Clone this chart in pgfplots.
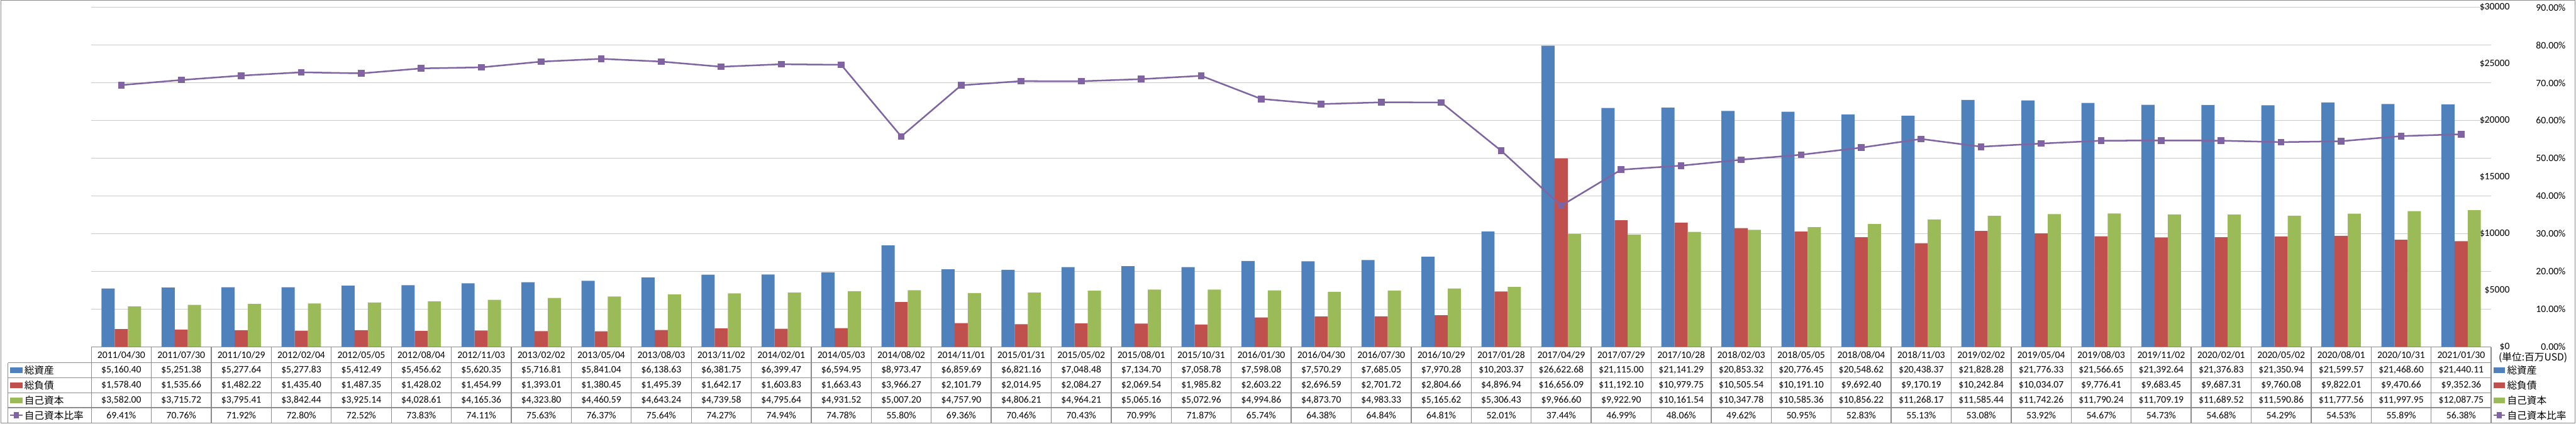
\documentclass[border=0pt]{standalone}
\usepackage{fontspec}
\setmainfont{Carlito}
\newfontfamily\jp{Noto Sans CJK JP}
\usepackage{pgfplots}
\usepackage{pgfplotstable}
\pgfplotsset{compat=1.18}
\pgfkeys{/pgf/number format/assume math mode=true}

\definecolor{cTA}{HTML}{4F81BD}
\definecolor{cTL}{HTML}{C0504D}
\definecolor{cEQ}{HTML}{9BBB59}
\definecolor{cR}{HTML}{8064A2}
\definecolor{cGrid}{HTML}{B5E09A}
\definecolor{cLine}{HTML}{8C8C8C}

\pgfplotstableread{
date ta tl eq r
2011/04/30 5160.40 1578.40 3582.00 69.41
2011/07/30 5251.38 1535.66 3715.72 70.76
2011/10/29 5277.64 1482.22 3795.41 71.92
2012/02/04 5277.83 1435.40 3842.44 72.80
2012/05/05 5412.49 1487.35 3925.14 72.52
2012/08/04 5456.62 1428.02 4028.61 73.83
2012/11/03 5620.35 1454.99 4165.36 74.11
2013/02/02 5716.81 1393.01 4323.80 75.63
2013/05/04 5841.04 1380.45 4460.59 76.37
2013/08/03 6138.63 1495.39 4643.24 75.64
2013/11/02 6381.75 1642.17 4739.58 74.27
2014/02/01 6399.47 1603.83 4795.64 74.94
2014/05/03 6594.95 1663.43 4931.52 74.78
2014/08/02 8973.47 3966.27 5007.20 55.80
2014/11/01 6859.69 2101.79 4757.90 69.36
2015/01/31 6821.16 2014.95 4806.21 70.46
2015/05/02 7048.48 2084.27 4964.21 70.43
2015/08/01 7134.70 2069.54 5065.16 70.99
2015/10/31 7058.78 1985.82 5072.96 71.87
2016/01/30 7598.08 2603.22 4994.86 65.74
2016/04/30 7570.29 2696.59 4873.70 64.38
2016/07/30 7685.05 2701.72 4983.33 64.84
2016/10/29 7970.28 2804.66 5165.62 64.81
2017/01/28 10203.37 4896.94 5306.43 52.01
2017/04/29 26622.68 16656.09 9966.60 37.44
2017/07/29 21115.00 11192.10 9922.90 46.99
2017/10/28 21141.29 10979.75 10161.54 48.06
2018/02/03 20853.32 10505.54 10347.78 49.62
2018/05/05 20776.45 10191.10 10585.36 50.95
2018/08/04 20548.62 9692.40 10856.22 52.83
2018/11/03 20438.37 9170.19 11268.17 55.13
2019/02/02 21828.28 10242.84 11585.44 53.08
2019/05/04 21776.33 10034.07 11742.26 53.92
2019/08/03 21566.65 9776.41 11790.24 54.67
2019/11/02 21392.64 9683.45 11709.19 54.73
2020/02/01 21376.83 9687.31 11689.52 54.68
2020/05/02 21350.94 9760.08 11590.86 54.29
2020/08/01 21599.57 9822.01 11777.56 54.53
2020/10/31 21468.60 9470.66 11997.95 55.89
2021/01/30 21440.11 9352.36 12087.75 56.38
}\data

\pgfplotsset{
  base/.style={
    at={(92.5pt,77.5pt)}, anchor=south west,
    width=2432pt, height=344pt, scale only axis,
    xmin=-0.5, xmax=39.5, xtick=\empty,
    axis line style={draw=none},
    major tick length=0pt,
    scaled y ticks=false,
    tick label style={font=\fontsize{10}{12}\selectfont},
  }
}

\begin{document}
\fontsize{10}{12}\selectfont
\begin{tikzpicture}
\useasboundingbox (0,0) rectangle (2610.5pt,429pt);
% grid axis
\begin{axis}[base, ymin=0, ymax=90, ytick={0,10,...,90}, yticklabels={},
  ymajorgrids, grid style={cGrid, line width=0.6pt}]
\end{axis}
% bars
\begin{axis}[base, ymin=0, ymax=30000, ytick={0,5000,...,30000},
  axis y line*=right, y axis line style={draw=none},
  yticklabel={\$\pgfmathprintnumber[fixed,1000 sep={}]{\tick}},
  yticklabel style={anchor=east, xshift=22.3pt},
  ybar=0pt, bar width=13.35pt]
\addplot[fill=cTA, draw=none] table[x expr=\coordindex, y=ta]{\data};
\addplot[fill=cTL, draw=none] table[x expr=\coordindex, y=tl]{\data};
\addplot[fill=cEQ, draw=none] table[x expr=\coordindex, y=eq]{\data};
\end{axis}
% ratio line
\begin{axis}[base, ymin=0, ymax=90, ytick={0,10,...,90},
  axis y line*=right, y axis line style={draw=none},
  yticklabel={\pgfmathprintnumber[fixed,fixed zerofill,precision=2]{\tick}\%},
  yticklabel style={anchor=east, xshift=79pt}]
\addplot[cR, line width=1.6pt, mark=square*, mark size=2.6pt, mark options={solid, fill=cR}]
  table[x expr=\coordindex, y=r]{\data};
\end{axis}

% data table
\begin{scope}[cLine, line width=0.8pt]
\draw (92.5pt,77.5pt) -- (2524.5pt,77.5pt);
\foreach \y in {61.5,46.5,31,16,0.5} \draw (8pt,\y pt) -- (2524.5pt,\y pt);
\draw (8pt,61.5pt) -- (8pt,0.5pt);
\foreach \i in {0,...,40} {
  \pgfmathsetmacro\xl{92.5+\i*60.8}
  \draw (\xl pt,77.5pt) -- (\xl pt,0.5pt);
}
\end{scope}
\foreach \i in {0,...,39} {
  \pgfmathsetmacro\xc{92.5+(\i+0.5)*60.8}
  \node[inner sep=0pt] at (\xc pt,69.5pt) {\pgfplotstablegetelem{\i}{date}\of\data\pgfplotsretval};
  \node[inner sep=0pt] at (\xc pt,54pt) {\pgfplotstablegetelem{\i}{ta}\of\data\$\pgfmathprintnumber[fixed,fixed zerofill,precision=2,1000 sep={,}]{\pgfplotsretval}};
  \node[inner sep=0pt] at (\xc pt,38.75pt) {\pgfplotstablegetelem{\i}{tl}\of\data\$\pgfmathprintnumber[fixed,fixed zerofill,precision=2,1000 sep={,}]{\pgfplotsretval}};
  \node[inner sep=0pt] at (\xc pt,23.5pt) {\pgfplotstablegetelem{\i}{eq}\of\data\$\pgfmathprintnumber[fixed,fixed zerofill,precision=2,1000 sep={,}]{\pgfplotsretval}};
  \node[inner sep=0pt] at (\xc pt,8.25pt) {\pgfplotstablegetelem{\i}{r}\of\data\pgfmathprintnumber[fixed,fixed zerofill,precision=2]{\pgfplotsretval}\%};
}
% left legend keys in table
\fill[cTA] (10pt,51pt) rectangle (23pt,57pt);
\fill[cTL] (10pt,35.75pt) rectangle (23pt,41.75pt);
\fill[cEQ] (10pt,20.5pt) rectangle (23pt,26.5pt);
\draw[cR, line width=1.6pt] (10pt,8.25pt) -- (23pt,8.25pt);
\fill[cR] (14pt,5.25pt) rectangle (19pt,11.25pt);
\begin{scope}[every node/.style={anchor=west, inner sep=0pt, font=\jp\fontsize{10}{12}\selectfont}]
\node at (24.5pt,54pt) {総資産};
\node at (24.5pt,38.75pt) {総負債};
\node at (24.5pt,23.5pt) {自己資本};
\node at (24.5pt,8.25pt) {自己資本比率};
% right legend
\node at (2532pt,66.5pt) {(単位:百万USD)};
\node at (2540.5pt,54pt) {総資産};
\node at (2540.5pt,38.75pt) {総負債};
\node at (2540.5pt,23.5pt) {自己資本};
\node at (2540.5pt,8.25pt) {自己資本比率};
\end{scope}
\fill[cTA] (2527pt,51pt) rectangle (2538.5pt,57pt);
\fill[cTL] (2527pt,35.75pt) rectangle (2538.5pt,41.75pt);
\fill[cEQ] (2527pt,20.5pt) rectangle (2538.5pt,26.5pt);
\draw[cR, line width=1.6pt] (2527pt,8.25pt) -- (2538.5pt,8.25pt);
\fill[cR] (2530pt,5.25pt) rectangle (2535.5pt,11.25pt);
% outer frame
\draw[cLine, line width=0.6pt] (0.8pt,0.5pt) rectangle (2609.7pt,428.5pt);
\end{tikzpicture}
\end{document}
